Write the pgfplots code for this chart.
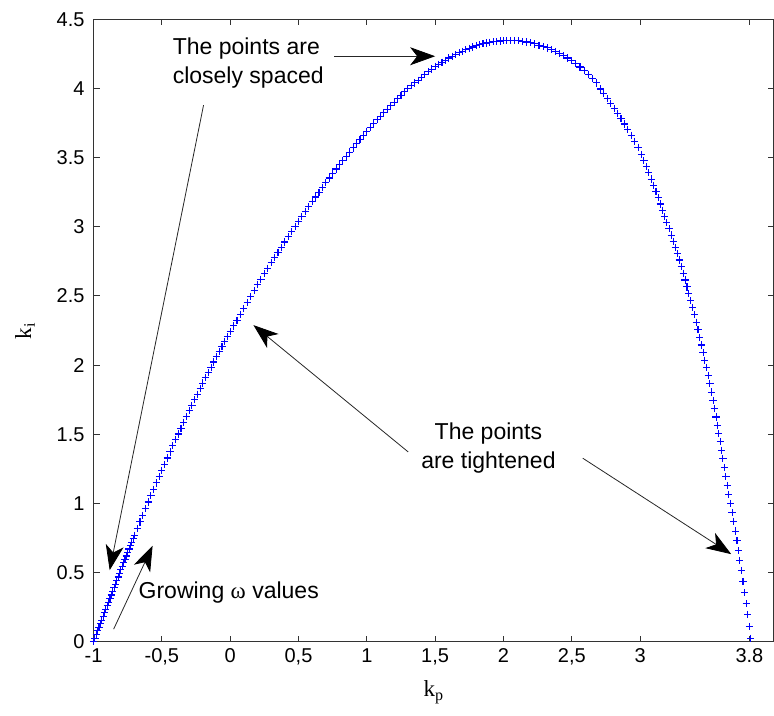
\documentclass[border=0pt]{standalone}
\usepackage{fontspec}
\setmainfont{Liberation Sans}
\newfontfamily\seriffont{Liberation Serif}
\usepackage{pgfplots}
\pgfplotsset{compat=1.18}
\usetikzlibrary{arrows.meta}

\tikzset{annot/.style={-{Stealth[length=12.5pt,width=9pt,inset=3.5pt,color=black,fill=black]}, line width=0.4pt, draw=black!85}}

\begin{document}
\begin{tikzpicture}
\begin{axis}[
  name=ax,
  scale only axis, width=340pt, height=311pt,
  xmin=-1, xmax=3.98, ymin=0, ymax=4.5,
  xtick={-1,-0.5,0,0.5,1,1.5,2,2.5,3,3.8},
  xticklabels={-1,{-0,5},0,{0,5},1,{1,5},2,{2,5},3,3.8},
  ytick={0,0.5,1,1.5,2,2.5,3,3.5,4,4.5},
  yticklabels={0,0.5,1,1.5,2,2.5,3,3.5,4,4.5},
  /pgf/number format/assume math mode=true,
  tick align=inside, major tick length=3pt,
  axis line style={black!80, line width=0.6pt},
  every tick/.style={black!80, line width=0.5pt},
  ticklabel style={font=\fontsize{10}{12}\selectfont},
  yticklabel style={xshift=-1pt},
  xlabel={\seriffont k\textsubscript{p}},
  ylabel={\seriffont k\textsubscript{i}},
  xlabel style={font=\fontsize{11.5}{13}\selectfont, at={(axis description cs:0.5,-0.081)}, anchor=center},
  ylabel style={font=\fontsize{11.5}{13}\selectfont, at={(axis description cs:-0.1007,0.5)}, anchor=center},
  clip=false,
]
% stability boundary (k_p, k_i) for increasing omega
\addplot[only marks, mark=+, mark size=1.8pt, color=blue, mark options={line width=0.55pt}] coordinates {
(-1.00,0.000) (-0.99,0.026) (-0.98,0.052) (-0.97,0.078) (-0.96,0.104) (-0.95,0.130) (-0.94,0.156) (-0.93,0.182) (-0.92,0.208)
(-0.91,0.234) (-0.90,0.260) (-0.89,0.286) (-0.88,0.312) (-0.87,0.338) (-0.86,0.364) (-0.85,0.390) (-0.84,0.416) (-0.83,0.442) (-0.82,0.468)
(-0.81,0.494) (-0.80,0.520) (-0.79,0.545) (-0.78,0.570) (-0.77,0.595) (-0.76,0.620) (-0.75,0.645) (-0.74,0.670) (-0.73,0.695) (-0.72,0.720)
(-0.71,0.745) (-0.70,0.770) (-0.68,0.818) (-0.66,0.866) (-0.64,0.914) (-0.62,0.962)
(-0.60,1.010) (-0.58,1.056) (-0.56,1.102) (-0.54,1.148) (-0.52,1.194)
(-0.50,1.240) (-0.48,1.284) (-0.46,1.328) (-0.44,1.372) (-0.42,1.416)
(-0.40,1.460) (-0.38,1.502) (-0.36,1.544) (-0.34,1.586) (-0.32,1.628)
(-0.30,1.670) (-0.28,1.710) (-0.26,1.750) (-0.24,1.790) (-0.22,1.830)
(-0.20,1.870) (-0.18,1.908) (-0.16,1.946) (-0.14,1.984) (-0.12,2.022)
(-0.10,2.060) (-0.08,2.096) (-0.06,2.132) (-0.04,2.168) (-0.02,2.204)
(0.000,2.240) (0.025,2.283) (0.050,2.325) (0.075,2.368) (0.100,2.410)
(0.125,2.453) (0.150,2.495) (0.175,2.538) (0.200,2.580) (0.225,2.620)
(0.250,2.660) (0.275,2.700) (0.300,2.740) (0.325,2.778) (0.350,2.815)
(0.375,2.853) (0.400,2.890) (0.425,2.928) (0.450,2.965) (0.475,3.003)
(0.500,3.040) (0.525,3.075) (0.550,3.110) (0.575,3.145) (0.600,3.180)
(0.625,3.215) (0.650,3.250) (0.675,3.285) (0.700,3.320) (0.725,3.353)
(0.750,3.385) (0.775,3.418) (0.800,3.450) (0.825,3.480) (0.850,3.510)
(0.875,3.540) (0.900,3.570) (0.925,3.600) (0.950,3.630) (0.975,3.660)
(1.000,3.690) (1.025,3.718) (1.050,3.745) (1.075,3.773) (1.100,3.800)
(1.125,3.825) (1.150,3.850) (1.175,3.875) (1.200,3.900) (1.225,3.925)
(1.250,3.950) (1.275,3.975) (1.300,4.000) (1.325,4.020) (1.350,4.040)
(1.375,4.060) (1.400,4.080) (1.425,4.100) (1.450,4.120) (1.475,4.140)
(1.500,4.160) (1.525,4.175) (1.550,4.190) (1.575,4.205) (1.600,4.220)
(1.625,4.233) (1.650,4.245) (1.675,4.258) (1.700,4.270) (1.725,4.280)
(1.750,4.290) (1.775,4.300) (1.800,4.310) (1.825,4.316) (1.850,4.323)
(1.875,4.329) (1.900,4.335) (1.925,4.338) (1.950,4.340) (1.975,4.343)
(2.000,4.345) (2.025,4.346) (2.050,4.347) (2.080,4.346) (2.110,4.344)
(2.140,4.340) (2.170,4.336) (2.200,4.330) (2.230,4.322) (2.260,4.313)
(2.290,4.303) (2.320,4.293) (2.350,4.281) (2.380,4.268) (2.410,4.253)
(2.440,4.238) (2.470,4.220) (2.500,4.200) (2.530,4.178) (2.560,4.155)
(2.590,4.130) (2.620,4.103) (2.650,4.072) (2.680,4.040) (2.710,3.996)
(2.735,3.961) (2.760,3.926) (2.785,3.891) (2.810,3.855) (2.835,3.818)
(2.860,3.780) (2.885,3.743) (2.910,3.703) (2.935,3.661) (2.960,3.618)
(2.985,3.576) (3.010,3.525) (3.028,3.480) (3.046,3.435) (3.064,3.390)
(3.082,3.345) (3.100,3.300) (3.116,3.255) (3.132,3.210) (3.148,3.165)
(3.164,3.120) (3.180,3.075) (3.196,3.030) (3.212,2.985) (3.227,2.940)
(3.242,2.895) (3.257,2.850) (3.272,2.805) (3.287,2.760) (3.301,2.715)
(3.315,2.665) (3.329,2.615) (3.343,2.565) (3.357,2.515) (3.371,2.465)
(3.385,2.415) (3.399,2.365) (3.411,2.310) (3.424,2.255) (3.436,2.200)
(3.449,2.145) (3.461,2.090) (3.474,2.035) (3.486,1.980) (3.499,1.925)
(3.511,1.865) (3.522,1.805) (3.534,1.745) (3.545,1.685) (3.556,1.625)
(3.566,1.565) (3.576,1.505) (3.586,1.445) (3.596,1.385) (3.606,1.325)
(3.617,1.260) (3.628,1.195) (3.638,1.130) (3.649,1.065) (3.661,1.000)
(3.673,0.935) (3.685,0.870) (3.698,0.800) (3.709,0.730) (3.720,0.660)
(3.730,0.590) (3.741,0.515) (3.753,0.435) (3.765,0.355) (3.776,0.275)
(3.788,0.195) (3.800,0.110) (3.810,0.025)
};

% annotations
\node[align=left, font=\fontsize{11.5}{14.5}\selectfont] at (axis cs:0.132,4.187) {The points are\\closely spaced};
\draw[annot] (axis cs:0.76,4.233) -- (axis cs:1.50,4.233);
\draw[annot] (axis cs:-0.195,3.879) -- (axis cs:-0.882,0.517);
\node[anchor=west, font=\fontsize{11.5}{14}\selectfont, inner sep=0pt] at (axis cs:-0.673,0.358) {Growing {\seriffont ω} values};
\draw[annot] (axis cs:-0.853,0.091) -- (axis cs:-0.568,0.693);
\node[align=center, font=\fontsize{11.5}{14.5}\selectfont] at (axis cs:1.890,1.399) {The points\\are tightened};
\draw[annot] (axis cs:1.303,1.372) -- (axis cs:0.170,2.289);
\draw[annot] (axis cs:2.580,1.327) -- (axis cs:3.667,0.633);
\end{axis}
\pgfresetboundingbox
\path ([shift={(-46.75pt,-36.75pt)}]ax.south west) rectangle ([shift={(0pt,9.65pt)}]ax.north east);
\end{tikzpicture}
\end{document}
